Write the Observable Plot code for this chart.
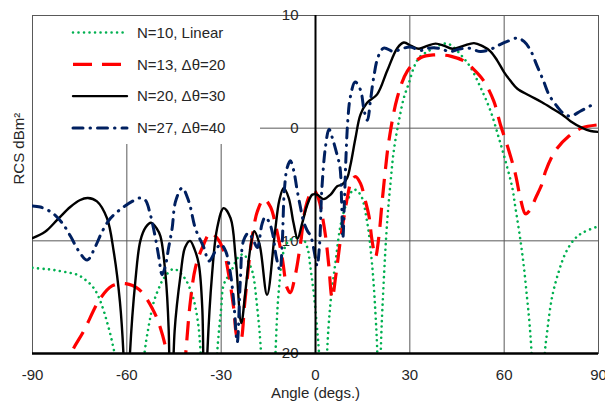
<!DOCTYPE html>
<html><head><meta charset="utf-8">
<script src="https://cdn.jsdelivr.net/npm/d3@7"></script>
<script src="https://cdn.jsdelivr.net/npm/@observablehq/plot@0.6"></script>
<style>
html,body{margin:0;padding:0;background:#fff;}
#chart svg{display:block;}
</style></head><body><div id="chart"></div>
<script>
// ---- data (angle in degrees, RCS in dBm²) ----
const xTicks = [-90, -60, -30, 0, 30, 60, 90];
const yTicks = [10, 0, -10, -20];
const xGrid = [-60, -30, 30, 60];
const yGrid = [0, -10];
const seriesNames = ["N=10, Linear", "N=13, \u0394\u03b8=20", "N=20, \u0394\u03b8=30", "N=27, \u0394\u03b8=40"];

const linear = [[-90,-12.4],[-86,-12.5],[-83,-12.6],[-79,-12.8],[-75.8,-13],[-73,-13.5],[-70.5,-14.2],[-68.5,-15.3],[-66.3,-17.2],[-64.5,-19.2],[-63.4,-21],[-59,-40],[-54.8,-21],[-53,-17.5],[-51.4,-15.4],[-49.5,-14],[-48.2,-13.3],[-45.1,-12.5],[-41.9,-13.2],[-39.2,-14.8],[-37.5,-17],[-36.4,-20.5],[-34,-40],[-31.4,-20.5],[-30,-16],[-29.2,-13.9],[-27,-12.8],[-24.4,-11.4],[-22.8,-11.2],[-21.5,-11.8],[-20.1,-12.7],[-18.5,-16],[-17.2,-20.5],[-15,-40],[-12.8,-20.5],[-11.7,-14.5],[-10.1,-10.9],[-8.5,-10],[-6,-9.7],[-4.2,-9.75],[-2.6,-10.6],[-1.6,-12.4],[-0.5,-14.8],[0.5,-17.75],[1.2,-20.5],[2.4,-40],[3.6,-20.5],[4.8,-15.4],[6.4,-11.8],[8,-8.6],[10.1,-6.5],[12.2,-5.45],[14.3,-5.9],[16.4,-8.3],[18,-12.1],[19.1,-16.6],[19.7,-20.5],[20.2,-40],[20.7,-20.5],[21.7,-13.6],[22.8,-8.3],[23.9,-4.7],[24.9,-2.0],[26.5,0.6],[28.1,2.7],[29.7,4.0],[31.3,5.4],[32.9,6.25],[35,6.7],[37.6,7.1],[40.8,7.5],[42.9,7.4],[46.1,6.55],[49.3,5.4],[52.5,3.6],[55.7,1.5],[58.3,-0.86],[60.4,-2.9],[62.6,-5.3],[63.6,-7.1],[65.2,-10],[66.3,-12.4],[67.3,-15.1],[68.1,-17.45],[68.8,-20.5],[70.8,-40],[72.8,-20.5],[73.7,-18],[75.3,-14.9],[77.4,-12.7],[79.5,-11.1],[82.2,-9.9],[84.8,-9.3],[90,-8.7]];

const n13 = [[-79.5,-22],[-77.9,-20.1],[-73.7,-18],[-68.4,-15.1],[-64.7,-14.0],[-60.4,-13.8],[-56.2,-14.3],[-51.9,-16.0],[-49.3,-17.75],[-47.2,-20.1],[-46.4,-22],[-44,-40],[-41.9,-22],[-41.3,-20.1],[-39.8,-15.4],[-38.2,-12.4],[-36,-10.6],[-33.4,-9.3],[-31.3,-9.75],[-29.2,-10.9],[-27.6,-13],[-26,-16],[-24.9,-18.6],[-23.9,-18.9],[-22.5,-15.5],[-21,-11.5],[-20.1,-9.6],[-18.5,-7.4],[-16.4,-6.3],[-14.3,-7.0],[-12.7,-8.6],[-10.6,-11.5],[-9,-14.2],[-8,-14.6],[-6.4,-13],[-4.8,-10.3],[-3.2,-7.1],[-1.6,-5.8],[-0.5,-5.5],[1,-6.3],[2.1,-7.7],[3.2,-9.6],[4.2,-12.1],[5.3,-15.1],[6.4,-13.2],[7.2,-11.5],[8,-9.75],[9,-8.0],[10.1,-6.2],[11.3,-4.8],[12.7,-4.3],[14.3,-4.9],[15.9,-6.5],[17,-7.8],[18,-10],[19.1,-11.4],[20.1,-9.75],[21.2,-6.5],[22.3,-3.5],[23.3,-1.2],[26,2.7],[29.2,5.07],[33.4,6.25],[37.6,6.5],[42.9,6.4],[47.2,5.96],[50.4,5.2],[53.5,4.2],[56.7,2.4],[58.8,0.33],[61.5,-2.0],[63.6,-4.1],[65.3,-6.4],[66.8,-7.6],[68.4,-7.2],[70,-6.2],[72.1,-4.9],[73.2,-3.8],[76.3,-2.0],[80.6,-0.7],[84.8,0.03],[90,0.3]];

const n20 = [[-90,-9.75],[-86,-9.2],[-82,-8.1],[-78,-7.0],[-75,-6.4],[-72.4,-6.2],[-69.5,-6.5],[-66.3,-8.0],[-64.2,-10.9],[-62.2,-15.4],[-61,-20.5],[-60.1,-30],[-59.1,-20.5],[-57.3,-13.6],[-55.7,-10],[-54,-8.8],[-52.3,-8.4],[-50.5,-8.9],[-49.3,-9.6],[-47.7,-13],[-46.7,-17.8],[-46,-30],[-44.8,-18],[-42.9,-13],[-41.5,-10.6],[-39.9,-10.0],[-38.4,-10.8],[-37.1,-12.1],[-36,-16],[-35.3,-30],[-34.4,-20],[-32.9,-13],[-31.3,-8.9],[-29.2,-7.1],[-27,-8.0],[-25.4,-11.5],[-23.6,-17.3],[-22.3,-14.5],[-20.7,-10.6],[-19.5,-9.15],[-17.8,-10.3],[-15.4,-14.8],[-13,-9.5],[-11.5,-6.4],[-10.1,-5.3],[-8.5,-6.2],[-7,-8.4],[-5.7,-9.8],[-4.2,-8.4],[-2.6,-6.8],[-1,-5.9],[0.5,-5.9],[2.6,-6.3],[4.8,-5.9],[6.9,-5.15],[8.5,-5.0],[10.1,-4.4],[11.1,-3.3],[12.7,-0.9],[14.3,1.2],[16.4,2.25],[19.6,3.0],[22.8,5.1],[26,7.1],[28.1,7.6],[30.5,7.3],[32.9,7.05],[35.5,7.3],[38.2,7.5],[41,7.3],[43.5,7.05],[47,7.3],[50.4,7.55],[53,7.3],[55.7,6.8],[57.8,6.0],[59.9,5.0],[62,4.2],[64.2,3.5],[68,2.9],[72,2.3],[75.8,1.66],[78.5,1.2],[81.1,0.62],[84.8,0.03],[87.5,-0.25],[90,-0.33]];

const n27 = [[-90,-6.9],[-87.5,-7.0],[-83.8,-7.5],[-80.6,-8.4],[-77.9,-9.6],[-75.3,-10.9],[-72.6,-11.7],[-70,-10.5],[-67.8,-9.15],[-65.2,-8.0],[-62,-7.2],[-58.3,-6.5],[-55.8,-6.2],[-54.1,-6.4],[-52.5,-7.7],[-50.9,-9.75],[-49.8,-11.5],[-48.8,-13],[-47.8,-12.3],[-46.7,-10.6],[-45.6,-8.9],[-44.5,-6.5],[-42.4,-5.3],[-40.3,-6.5],[-38.2,-8.9],[-35.5,-10.6],[-33.9,-11.8],[-31.8,-10.9],[-30.2,-10.3],[-28.6,-10.9],[-27,-13],[-26,-15.4],[-24.9,-19],[-23.9,-13.5],[-22.9,-10],[-21.3,-9.3],[-19.7,-10],[-18.5,-10.6],[-17,-8.5],[-16,-7.9],[-14.8,-8.3],[-13.6,-9.4],[-12.5,-11.4],[-11.3,-12.6],[-10.6,-10.3],[-9.9,-5.5],[-9,-3.5],[-8,-2.9],[-6.9,-3.8],[-5.9,-5.4],[-4.8,-7],[-3.8,-8.3],[-2.6,-9.1],[-1.5,-9.6],[-0.5,-10.8],[0.5,-12.2],[1.3,-10.3],[2,-5.5],[3.2,-1.6],[4.3,-0.1],[5.5,-1.0],[6.8,-2.3],[7.8,-3.5],[8.3,-6.5],[8.7,-9.8],[9.2,-6.5],[9.7,-2.5],[10.3,0.8],[11.1,2.8],[12.6,4.1],[14.3,3.4],[15.5,1.5],[16.5,0.7],[17.5,2.5],[18.5,4.5],[20,6.4],[21.7,7.1],[24.9,6.8],[27,7.0],[30,7.2],[33.4,6.9],[35.9,7.1],[39,7.1],[42.9,6.8],[45.5,7.0],[48.8,7.1],[52.5,6.8],[55.7,7.0],[58.5,7.4],[61,7.7],[64.2,8.0],[66.3,7.7],[68.4,6.9],[70.5,5.5],[72.5,4.2],[74.2,3.0],[76.9,1.9],[78.9,1.3],[81.1,1.07],[84.2,1.5],[87.5,2.0],[89,2.2]];

// ---- styling ----
const series = [linear, n13, n20, n27];
const colors = ["#00B050", "#FF0000", "#000000", "#002060"];
const dashes = ["0.01 5.5", "19 10", undefined, "10 7 0.5 7"];
const widths = [2.6, 3.2, 2.4, 3];
const caps = ["round", "butt", "round", "round"];
const font = "'Liberation Sans', Arial, sans-serif";
const ink = "#262626";
const gridColor = "#595959";

const lineMarks = series.map((s, i) => Plot.line(s, {
  x: d => d[0], y: d => d[1],
  stroke: colors[i], strokeWidth: widths[i],
  strokeDasharray: dashes[i], strokeLinecap: caps[i],
  curve: "catmull-rom", clip: true
}));

const chart = Plot.plot({
  width: 605, height: 403,
  marginLeft: 32, marginRight: 7, marginTop: 15, marginBottom: 50,
  style: {fontFamily: font, fontSize: "15px", color: ink, background: "white"},
  x: {domain: [-90, 90]},
  y: {domain: [-20, 10]},
  marks: [
    Plot.gridX(xGrid, {stroke: gridColor, strokeOpacity: 1}),
    Plot.gridY(yGrid, {stroke: gridColor, strokeOpacity: 1}),
    Plot.frame({stroke: gridColor}),
    Plot.axisX(xTicks, {tickSize: 0, tickPadding: 16, fontSize: 15, tickFormat: d => String(d), label: null, fill: ink}),
    Plot.axisY([], {label: null}),
    Plot.text(yTicks, {x: 0, y: d => d, text: d => String(d), dx: -17, textAnchor: "end", fontSize: 15, fill: ink}),
    Plot.text(["RCS dBm\u00b2"], {frameAnchor: "left", text: d => d, rotate: -90, dx: -13, fontSize: 15, fill: ink}),
    Plot.text(["Angle (degs.)"], {frameAnchor: "bottom", text: d => d, dy: 40, lineAnchor: "middle", fontSize: 15, fill: ink}),
    ...lineMarks,
    Plot.ruleX([0], {stroke: "#000", strokeWidth: 2}),
    Plot.ruleY([-20], {stroke: "#000", strokeWidth: 2.5})
  ]
});
document.getElementById("chart").appendChild(chart);

// ---- legend (white box in the upper-left of the frame) ----
const X = chart.scale("x"), Y = chart.scale("y");
const fx = X.apply(-90), fy = Y.apply(10);
const svg = d3.select(chart);
const lg = svg.append("g").attr("font-family", font).attr("font-size", 15).attr("text-anchor", "start");
lg.append("rect").attr("x", fx + 1).attr("y", fy + 1).attr("width", 227).attr("height", 128).attr("fill", "white");
seriesNames.forEach((name, i) => {
  const yy = fy + 17.5 + i * 31.8;
  lg.append("line")
    .attr("x1", fx + 41).attr("x2", fx + 95).attr("y1", yy).attr("y2", yy)
    .attr("stroke", colors[i]).attr("stroke-width", widths[i])
    .attr("stroke-dasharray", dashes[i] || null).attr("stroke-linecap", caps[i]);
  lg.append("text").attr("x", fx + 105).attr("y", yy).attr("dy", "0.35em")
    .attr("text-anchor", "start").attr("fill", ink).text(name);
});
</script>
</body></html>
